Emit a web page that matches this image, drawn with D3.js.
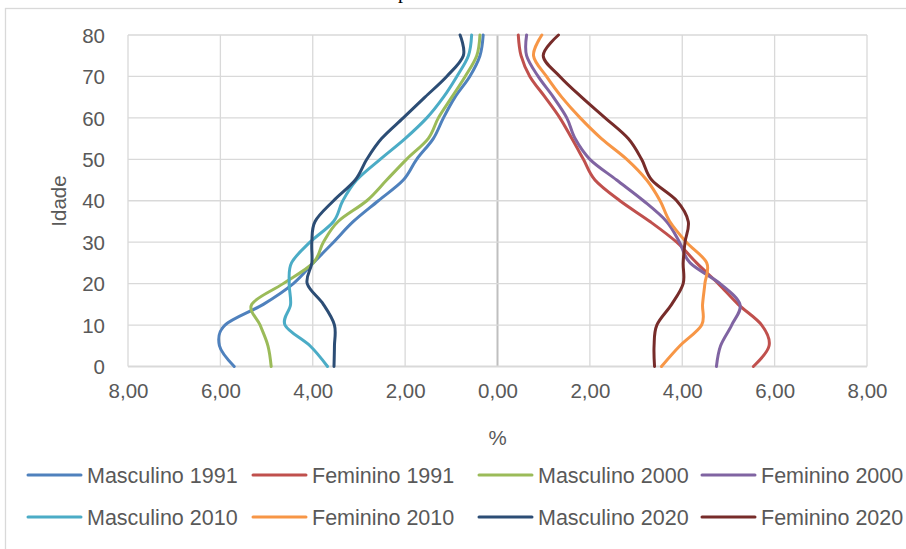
<!DOCTYPE html>
<html>
<head>
<meta charset="utf-8">
<script src="https://cdn.jsdelivr.net/npm/d3@7"></script>
<style>
  body { margin: 0; background: #fff; }
  text { font-family: "Liberation Sans", Arial, sans-serif; fill: #595959; }
</style>
</head>
<body>
<div id="chart"></div>
<script>
// ages (5-year steps)
const ages = [0, 5, 10, 15, 20, 25, 30, 35, 40, 45, 50, 55, 60, 65, 70, 75, 80];

// % of population
const masc1991 = [5.70, 6.02, 5.90, 5.07, 4.42, 3.99, 3.55, 3.12, 2.58, 2.04, 1.75, 1.39, 1.17, 0.92, 0.60, 0.38, 0.31];
const fem1991  = [5.54, 5.88, 5.72, 5.21, 4.78, 4.31, 3.88, 3.30, 2.65, 2.11, 1.86, 1.61, 1.35, 1.03, 0.70, 0.51, 0.45];
const masc2000 = [4.90, 4.97, 5.14, 5.32, 4.64, 3.99, 3.77, 3.45, 2.83, 2.40, 1.97, 1.50, 1.28, 0.99, 0.70, 0.45, 0.38];
const fem2000  = [4.74, 4.83, 5.07, 5.25, 4.82, 4.17, 3.94, 3.66, 3.16, 2.58, 2.00, 1.68, 1.50, 1.21, 0.88, 0.63, 0.63];
const masc2010 = [3.68, 4.06, 4.60, 4.48, 4.51, 4.46, 4.06, 3.55, 3.35, 3.05, 2.54, 2.00, 1.53, 1.17, 0.88, 0.63, 0.56];
const fem2010  = [3.55, 3.95, 4.42, 4.44, 4.49, 4.53, 4.09, 3.73, 3.52, 3.23, 2.80, 2.25, 1.79, 1.39, 1.06, 0.78, 0.96];
const masc2020 = [3.54, 3.53, 3.53, 3.77, 4.12, 4.02, 4.02, 3.95, 3.55, 3.08, 2.83, 2.51, 2.04, 1.57, 1.10, 0.74, 0.81];
const fem2020  = [3.40, 3.39, 3.45, 3.77, 4.02, 4.02, 4.06, 4.13, 3.88, 3.34, 3.12, 2.83, 2.33, 1.82, 1.35, 0.99, 1.32];

const seriesNames = ["Masculino 1991", "Feminino 1991", "Masculino 2000", "Feminino 2000",
                     "Masculino 2010", "Feminino 2010", "Masculino 2020", "Feminino 2020"];
const seriesValues = [masc1991, fem1991, masc2000, fem2000, masc2010, fem2010, masc2020, fem2020];
const seriesColors = ["#4f81bd", "#c0504d", "#9bbb59", "#8064a2", "#4bacc6", "#f79646", "#2c4d75", "#772c2a"];

const xTicks = [-8, -6, -4, -2, 0, 2, 4, 6, 8];
const yTicks = [0, 10, 20, 30, 40, 50, 60, 70, 80];

var width = 906, height = 549;
var margin = { top: 35, left: 128, right: 906 - 867, bottom: 549 - 366.5 };

var svg = d3.select("#chart").append("svg")
    .attr("width", width)
    .attr("height", height);

// chart frame
svg.append("rect")
    .attr("x", 5.5).attr("y", 8.5)
    .attr("width", 920).attr("height", 560)
    .attr("fill", "none")
    .attr("stroke", "#d9d9d9")
    .attr("stroke-width", 1.3);

// cut-off title (only its descender shows in the reference)
svg.append("text")
    .attr("x", 398).attr("y", -2)
    .style("font-family", "'Liberation Serif', serif")
    .style("font-size", "20px")
    .style("fill", "#000")
    .text("p");

var xScale = d3.scaleLinear()
    .domain([-8, 8])
    .range([margin.left, width - margin.right]);

var yScale = d3.scaleLinear()
    .domain([0, 80])
    .range([height - margin.bottom, margin.top]);

// grid
svg.append("g")
    .selectAll("line.v")
    .data(xTicks)
    .enter().append("line")
    .attr("x1", d => xScale(d)).attr("x2", d => xScale(d))
    .attr("y1", yScale(0)).attr("y2", yScale(80))
    .attr("stroke", d => d == 0 ? "#bfbfbf" : "#d9d9d9")
    .attr("stroke-width", d => d == 0 ? 2 : 1.3);

svg.append("g")
    .selectAll("line.h")
    .data(yTicks)
    .enter().append("line")
    .attr("x1", xScale(-8)).attr("x2", xScale(8))
    .attr("y1", d => yScale(d)).attr("y2", d => yScale(d))
    .attr("stroke", "#d9d9d9")
    .attr("stroke-width", d => d == 0 ? 2 : 1.3);

// axes (labels only)
var xAxis = svg.append("g")
    .attr("transform", `translate(0,${yScale(0) + 14})`)
    .call(d3.axisBottom(xScale).tickValues(xTicks).tickSize(0)
        .tickFormat(d => Math.abs(d).toFixed(2).replace(".", ",")));
xAxis.select(".domain").remove();
xAxis.selectAll("text").style("font-size", "20.5px").attr("fill", "#595959");

var yAxis = svg.append("g")
    .attr("transform", `translate(${xScale(-8) - 20},0)`)
    .call(d3.axisLeft(yScale).tickValues(yTicks).tickSize(0));
yAxis.select(".domain").remove();
yAxis.selectAll("text").style("font-size", "20.5px").attr("fill", "#595959").attr("dy", "0.35em");

svg.append("text")
    .attr("x", xScale(0)).attr("y", 445)
    .attr("text-anchor", "middle")
    .style("font-size", "20.5px")
    .text("%");

svg.append("text")
    .attr("transform", `translate(66,201) rotate(-90)`)
    .attr("text-anchor", "middle")
    .style("font-size", "20.5px")
    .text("Idade");

// lines
var line = d3.line()
    .x(d => xScale(d[0]))
    .y(d => yScale(d[1]))
    .curve(d3.curveCatmullRom.alpha(0));

seriesValues.forEach(function(vals, i) {
    var sign = seriesNames[i].startsWith("Masculino") ? -1 : 1;
    var pts = vals.map((v, j) => [sign * v, ages[j]]);
    svg.append("path")
        .datum(pts)
        .attr("d", line)
        .attr("fill", "none")
        .attr("stroke", seriesColors[i])
        .attr("stroke-width", 3)
        .attr("stroke-linecap", "round");
});

// legend
var legendX = [28, 253, 479, 702];
var legendY = [475, 517];
var legend = svg.append("g");
seriesNames.forEach(function(name, i) {
    var lx = legendX[i % 4], ly = legendY[Math.floor(i / 4)];
    legend.append("line")
        .attr("x1", lx).attr("x2", lx + 53)
        .attr("y1", ly).attr("y2", ly)
        .attr("stroke", seriesColors[i])
        .attr("stroke-width", 3)
        .attr("stroke-linecap", "round");
    legend.append("text")
        .attr("x", lx + 59).attr("y", ly)
        .attr("dy", "0.35em")
        .style("font-size", "21.5px")
        .text(name);
});
</script>
</body>
</html>
